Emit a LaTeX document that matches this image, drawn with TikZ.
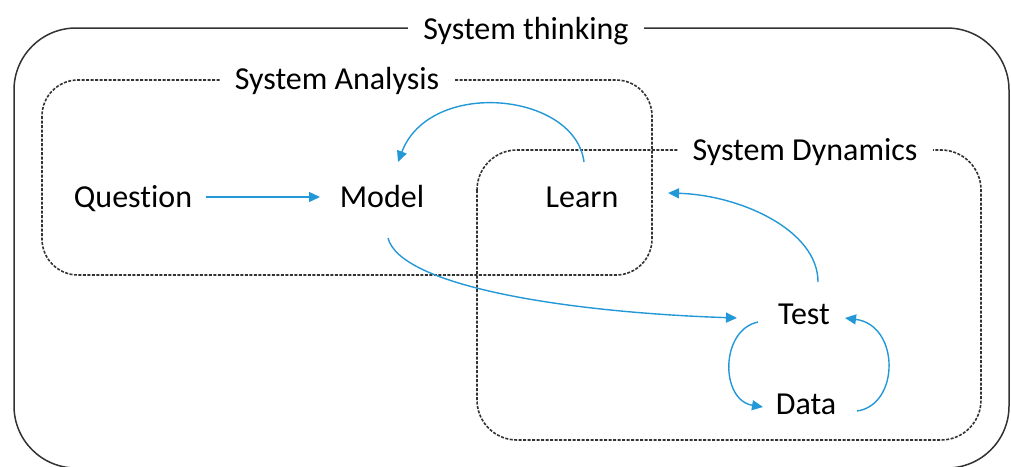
\documentclass[tikz,border=0pt]{standalone}
\usepackage{fontspec}
\setmainfont{Carlito}[Ligatures={NoCommon}]
\usetikzlibrary{arrows.meta,calc}
\definecolor{arrblue}{RGB}{35,152,215}
\definecolor{boxgray}{RGB}{50,50,50}
\begin{document}
\begin{tikzpicture}[x=1pt,y=-1pt,
  txt/.style={font=\fontsize{32}{38}\selectfont, inner sep=0pt, anchor=base},
  lbl/.style={font=\fontsize{32}{38}\selectfont, fill=white, inner xsep=15pt, inner ysep=2pt, anchor=base},
  solidbox/.style={draw=boxgray, line width=1.5pt},
  dashbox/.style={draw=boxgray, line width=1.6pt, dash pattern=on 3pt off 1.5pt},
  conn/.style={draw=arrblue, line width=1.4pt, -{Triangle[length=11pt,width=10pt]}}]
\useasboundingbox (0,0) rectangle (1011,466);
% boxes
\draw[solidbox, rounded corners=62pt] (14,28) rectangle (1009,468);
\draw[dashbox, rounded corners=36pt] (42,80) rectangle (652,275);
\draw[dashbox, rounded corners=40pt] (477,150) rectangle (981,440);
% box labels
\node[lbl] (lthink) at (526,39) {System thinking};
\node[lbl] (lana) at (337,89) {System Analysis};
\node[lbl] (ldyn) at (805,160) {System Dynamics};
% nodes
\node[txt] (question) at (133,207) {Question};
\node[txt] (model) at (382,207) {Model};
\node[txt] (learn) at (582,207) {Learn};
\node[txt] (test) at (804,324) {Test};
\node[txt] (data) at (806,414) {Data};
% connectors
\draw[conn] ($(question.base)+(73,-10)$) -- ($(model.base)+(-62,-10)$);
\draw[conn] ($(learn.base)+(2,-45)$) .. controls +(-9,-70) and +(32,-84) .. ($(model.base)+(16,-45)$);
\draw[conn] ($(test.base)+(14,-42)$) .. controls +(0,-52) and +(72,2) .. ($(learn.base)+(86,-14)$);
\draw[conn] ($(model.base)+(6,31)$) .. controls +(12,47) and +(-177,-6) .. ($(test.base)+(-67,-6)$);
\draw[conn] ($(test.base)+(-46,-2)$) .. controls +(-38,8) and +(-43,-7) .. ($(data.base)+(-43,-7)$);
\draw[conn] ($(data.base)+(51,-3)$) .. controls +(43,-6) and +(55,7) .. ($(test.base)+(41,-6)$);
\end{tikzpicture}
\end{document}
